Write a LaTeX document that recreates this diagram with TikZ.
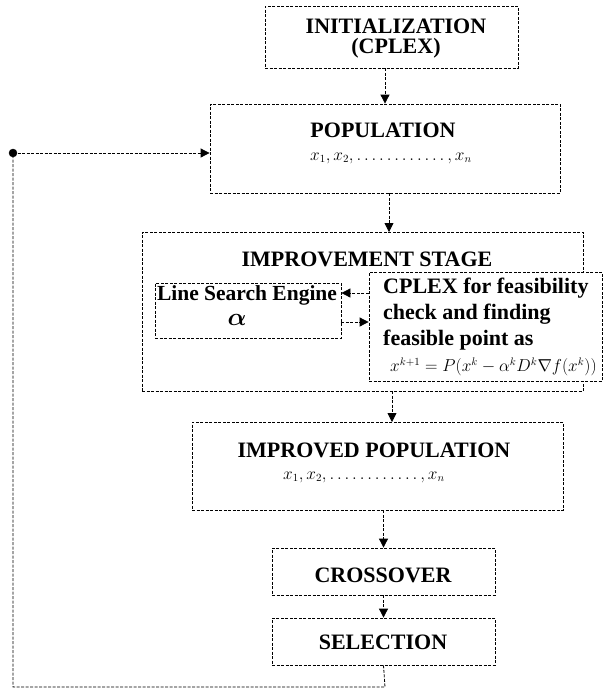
\documentclass[tikz,border=0pt]{standalone}
\usepackage{fontspec}
\usepackage{amsmath}
\setmainfont{Liberation Serif}
\usetikzlibrary{arrows.meta}

\tikzset{
  dbox/.style={draw, line width=0.8pt, dash pattern=on 3pt off 1.5pt, inner sep=0pt},
  ttl/.style={font=\fontsize{22}{24}\selectfont\bfseries, inner sep=0pt},
  frm/.style={font=\fontsize{16}{18}\selectfont, inner sep=0pt},
  arr/.style={line width=0.8pt, dash pattern=on 3pt off 1.5pt, -{Triangle[length=9pt,width=9pt]}},
  lnk/.style={line width=0.8pt, dash pattern=on 3pt off 1.5pt}
}

\begin{document}
\begin{tikzpicture}[x=1pt, y=-1pt]
            \useasboundingbox (0, 0) rectangle (615, 689);
            % boxes
            \node[dbox, minimum width=253, minimum height=62] (init) at (391.5, 37) {};
            \node[dbox, minimum width=350, minimum height=89] (pop) at (385, 148.5) {};
            \node[dbox, minimum width=441, minimum height=159] (imp) at (362.5, 311.5) {};
            \node[dbox, minimum width=186, minimum height=55] (lse) at (248, 310.5) {};
            \node[dbox, fill=white, minimum width=233, minimum height=109] (cplex) at (485.5, 326.5) {};
            \node[dbox, minimum width=371, minimum height=88] (impop) at (377.5, 466) {};
            \node[dbox, minimum width=223, minimum height=47] (cross) at (383.5, 571.5) {};
            \node[dbox, minimum width=223, minimum height=47] (sel) at (383.5, 641.5) {};
            % texts
            \node[ttl] (initA) at (396, 26) {INITIALIZATION};
            \node[ttl] (initB) at (396, 48) {(CPLEX)};
            \node[ttl] (popA) at (383, 130) {POPULATION};
            \node[frm] (popB) at (391, 158) {$x_1,x_2,\ldots\ldots\ldots\ldots,x_n$};
            \node[ttl] (impA) at (367, 259) {IMPROVEMENT STAGE};
            \node[ttl, font=\fontsize{21.5}{24}\selectfont\bfseries] (lseA) at (247, 295) {Line Search Engine};
            \node[font=\fontsize{30}{32}\selectfont, inner sep=0pt] (lseB) at (237, 320) {$\boldsymbol{\alpha}$};
            \node[ttl, anchor=west] (cplA) at (383, 288) {CPLEX for feasibility};
            \node[ttl, anchor=west] (cplB) at (383, 314) {check and finding};
            \node[ttl, anchor=west] (cplC) at (383, 340) {feasible point as};
            \node[frm, anchor=west] (cplD) at (390, 367) {$x^{k+1}=P(x^k-\alpha^kD^k\nabla f(x^k))$};
            \node[ttl] (ipA) at (374, 450) {IMPROVED POPULATION};
            \node[frm] (ipB) at (364, 477) {$x_1,x_2,\ldots\ldots\ldots\ldots,x_n$};
            \node[ttl] (crA) at (383, 575) {CROSSOVER};
            \node[ttl] (seA) at (383, 642) {SELECTION};
            % feedback corners
            \coordinate (c1) at (385, 687);
            \coordinate (c2) at (13, 687);
            \coordinate (c3) at (13, 153);
            % connectors
            \draw[arr] (pop.north |- init.south) -- (pop.north);
            \draw[arr] (389, 193) -- (389, 232);
            \draw[arr] (392, 391) -- (392, 422);
            \draw[arr] (cross.north |- impop.south) -- (cross.north);
            \draw[arr] (cross.south) -- (sel.north);
            \draw[arr] (cplex.west |- 0, 293) -- (lse.east |- 0, 293);
            \draw[arr] (lse.east |- 0, 322) -- (cplex.west |- 0, 322);
            \draw[lnk] (sel.south) -- (c1) -- (c2) -- (c3);
            \draw[arr] (c3) -- (c3 -| pop.west);
            \filldraw (c3) circle (4);
        \end{tikzpicture}
\end{document}
